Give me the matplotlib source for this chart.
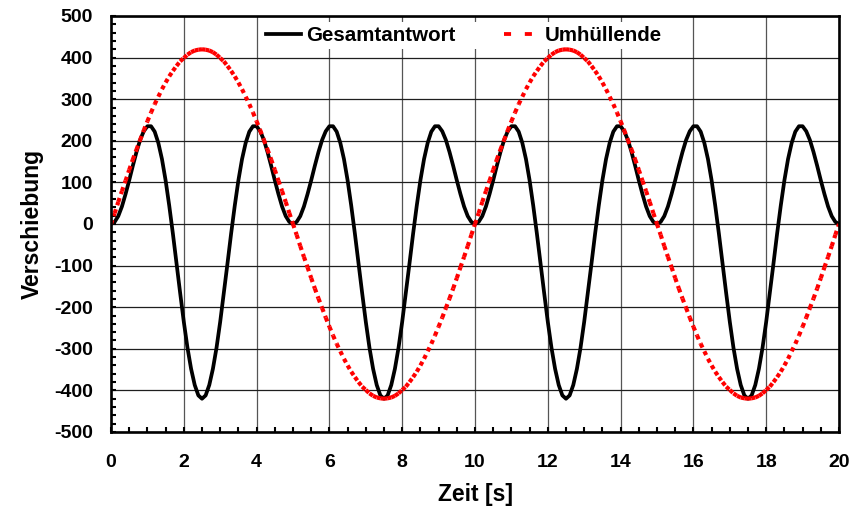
import numpy as np
import matplotlib
matplotlib.use("Agg")
import matplotlib.pyplot as plt
from matplotlib.collections import LineCollection
from matplotlib.lines import Line2D
from matplotlib.ticker import MultipleLocator

# Sample times [s], 0.1 s steps
zeit = np.linspace(0, 20, 201)

# Total response (Gesamtantwort)
gesamtantwort = [
    0, 5, 19, 42, 72, 105, 140, 173, 202, 223, 235, 235, 222, 195, 156, 105, 44, -23, -95, -166,
    -235, -297, -348, -387, -412, -420, -412, -387, -348, -297, -235, -166, -95, -23, 44, 105, 156,
    195, 222, 235, 235, 223, 202, 173, 140, 105, 72, 42, 19, 5, 0,
    5, 19, 42, 72, 105, 140, 173, 202, 223, 235, 235, 222, 195, 156, 105, 44, -23, -95, -166,
    -235, -297, -348, -387, -412, -420, -412, -387, -348, -297, -235, -166, -95, -23, 44, 105, 156,
    195, 222, 235, 235, 223, 202, 173, 140, 105, 72, 42, 19, 5, 0,
    5, 19, 42, 72, 105, 140, 173, 202, 223, 235, 235, 222, 195, 156, 105, 44, -23, -95, -166,
    -235, -297, -348, -387, -412, -420, -412, -387, -348, -297, -235, -166, -95, -23, 44, 105, 156,
    195, 222, 235, 235, 223, 202, 173, 140, 105, 72, 42, 19, 5, 0,
    5, 19, 42, 72, 105, 140, 173, 202, 223, 235, 235, 222, 195, 156, 105, 44, -23, -95, -166,
    -235, -297, -348, -387, -412, -420, -412, -387, -348, -297, -235, -166, -95, -23, 44, 105, 156,
    195, 222, 235, 235, 223, 202, 173, 140, 105, 72, 42, 19, 5, 0,
]

# Envelope (Umhuellende)
umhuellende = [
    0, 26, 53, 79, 104, 130, 155, 179, 202, 225, 247, 268, 288, 306, 324, 340, 355, 368, 380, 391,
    399, 407, 413, 417, 419, 420, 419, 417, 413, 407, 399, 391, 380, 368, 355, 340, 324, 306, 288,
    268, 247, 225, 202, 179, 155, 130, 104, 79, 53, 26, 0,
    -26, -53, -79, -104, -130, -155, -179, -202, -225, -247, -268, -288, -306, -324, -340, -355,
    -368, -380, -391, -399, -407, -413, -417, -419, -420, -419, -417, -413, -407, -399, -391, -380,
    -368, -355, -340, -324, -306, -288, -268, -247, -225, -202, -179, -155, -130, -104, -79, -53,
    -26, 0,
    26, 53, 79, 104, 130, 155, 179, 202, 225, 247, 268, 288, 306, 324, 340, 355, 368, 380, 391,
    399, 407, 413, 417, 419, 420, 419, 417, 413, 407, 399, 391, 380, 368, 355, 340, 324, 306, 288,
    268, 247, 225, 202, 179, 155, 130, 104, 79, 53, 26, 0,
    -26, -53, -79, -104, -130, -155, -179, -202, -225, -247, -268, -288, -306, -324, -340, -355,
    -368, -380, -391, -399, -407, -413, -417, -419, -420, -419, -417, -413, -407, -399, -391, -380,
    -368, -355, -340, -324, -306, -288, -268, -247, -225, -202, -179, -155, -130, -104, -79, -53,
    -26, 0,
]

x_ticks = [0, 2, 4, 6, 8, 10, 12, 14, 16, 18, 20]
y_ticks = [-500, -400, -300, -200, -100, 0, 100, 200, 300, 400, 500]
series_labels = ["Gesamtantwort", "Umhüllende"]

plt.rcParams['font.family'] = ['Liberation Sans', 'DejaVu Sans']
plt.rcParams['font.weight'] = 'bold'
plt.rcParams['axes.unicode_minus'] = False

fig = plt.figure(figsize=(8.63, 5.07), dpi=100)
ax = fig.add_axes([111 / 863, 1 - 432 / 507, 728 / 863, 416 / 507])

ax.set_xlim(x_ticks[0], x_ticks[-1])
ax.set_ylim(y_ticks[0], y_ticks[-1])
ax.set_xticks(x_ticks)
ax.set_yticks(y_ticks)
ax.xaxis.set_minor_locator(MultipleLocator(0.5))
ax.yaxis.set_minor_locator(MultipleLocator(20))

# grid: black horizontals, grey verticals
ax.yaxis.grid(True, which='major', color='#1e1e1e', lw=0.9, zorder=1)
ax.xaxis.grid(True, which='major', color='#555555', lw=0.9, zorder=1)
ax.set_axisbelow(True)

# total response
ax.plot(zeit, gesamtantwort, color='black', lw=2.7, zorder=3,
        solid_joinstyle='round', solid_capstyle='round')

# envelope: square-dot pattern restarting on every segment
pts = np.column_stack([zeit, np.asarray(umhuellende, dtype=float)])
segs = np.stack([pts[:-1], pts[1:]], axis=1)
lc = LineCollection(segs, colors='red', linewidths=3.0,
                    linestyles=[(0, (1, 1))], zorder=4)
lc.set_capstyle('butt')
ax.add_collection(lc)

for s in ax.spines.values():
    s.set_linewidth(1.9)
    s.set_color('black')
    s.set_zorder(6)

ax.tick_params(axis='both', which='both', direction='in', top=False, right=False,
               length=3.8, width=1.5, color='black')
ax.tick_params(axis='x', which='major', labelsize=14, pad=16)
ax.tick_params(axis='y', which='major', labelsize=14, pad=13)
for lab in ax.get_xticklabels() + ax.get_yticklabels():
    lab.set_fontweight('bold')

ax.set_xlabel("Zeit [s]", fontsize=16.5, fontweight='bold', va='center')
ax.xaxis.set_label_coords(0.5, -0.1514)
ax.set_ylabel("Verschiebung", fontsize=16.5, fontweight='bold', va='center')
ax.yaxis.set_label_coords(-0.1078, 0.5)

handles = [
    Line2D([], [], color='black', lw=2.7),
    Line2D([], [], color='red', lw=2.75, linestyle=(0, (1.85, 3.6)),
           dash_capstyle='butt'),
]
leg = ax.legend(handles, series_labels, loc='upper center', bbox_to_anchor=(0.4846, 0.985),
                ncol=2, frameon=True, framealpha=1, facecolor='white', edgecolor='none',
                fancybox=False, borderaxespad=0, borderpad=0.2, handlelength=1.7,
                handletextpad=0.25, columnspacing=2.38,
                prop={'weight': 'bold', 'size': 14.8})
leg.set_zorder(2)

fig.savefig("out.png", dpi=100)
